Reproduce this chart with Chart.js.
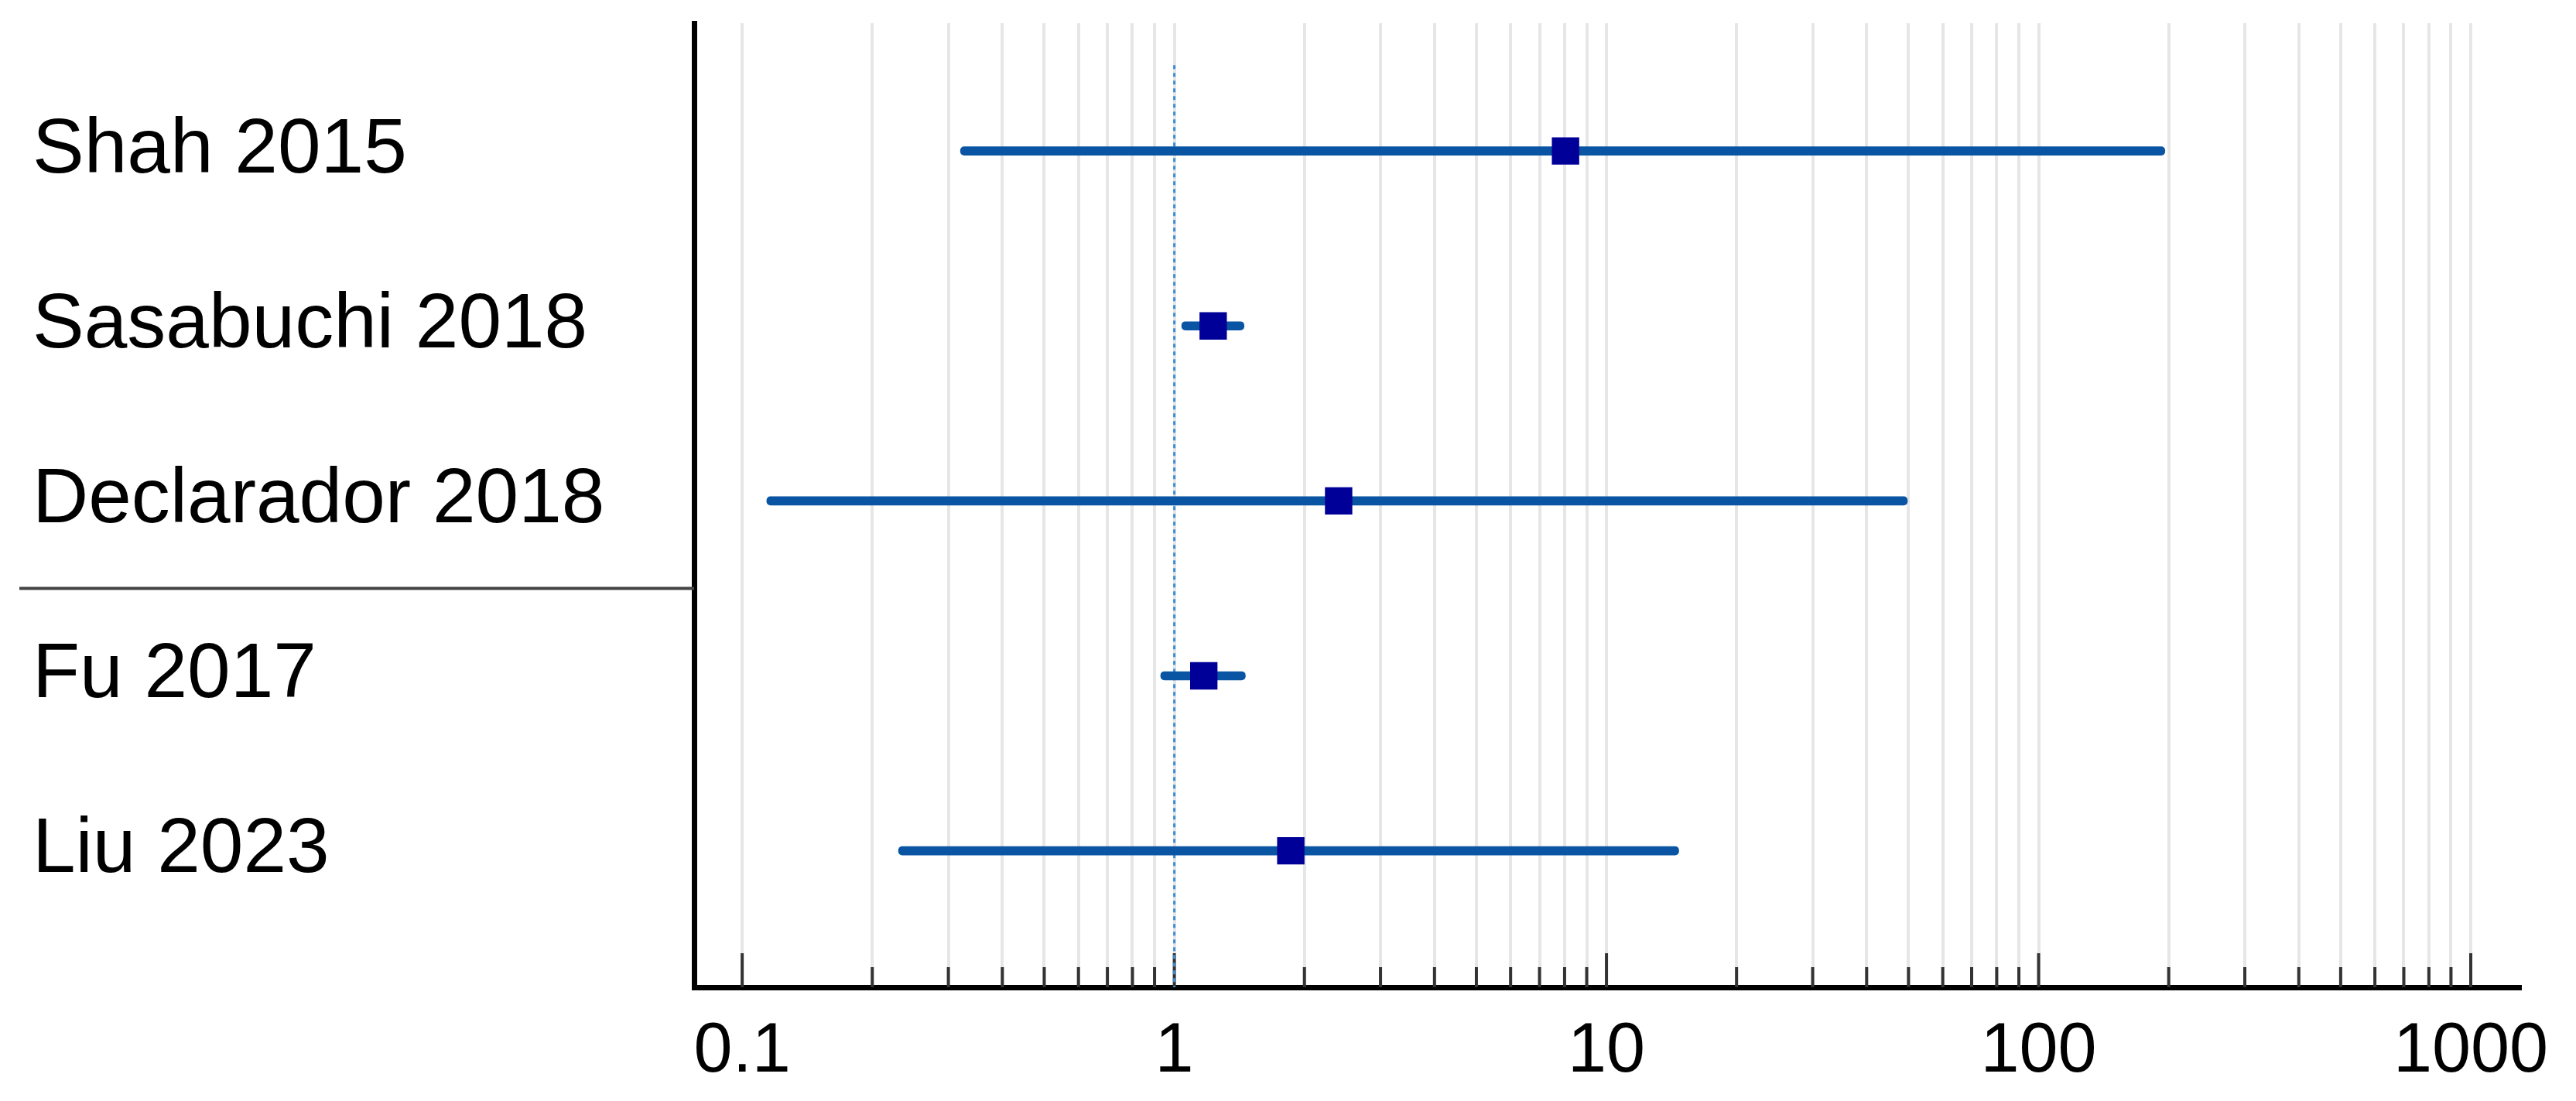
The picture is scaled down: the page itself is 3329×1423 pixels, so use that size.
<!DOCTYPE html>
<html>
<head>
<meta charset="utf-8">
<title>Forest plot</title>
<script src="https://cdn.jsdelivr.net/npm/chart.js@4.4.1/dist/chart.umd.min.js"></script>
<style>
  html, body { margin: 0; padding: 0; background: #fff; }
  #contenedor { width: 3329px; height: 1423px; }
</style>
</head>
<body>
<div id="contenedor"><canvas id="myChart" width="3329" height="1423"></canvas></div>
<script>
//datos
const estudios = ['Shah 2015', 'Sasabuchi 2018', 'Declarador 2018', 'Fu 2017', 'Liu 2023'];
const estimados = [8.04, 1.23, 2.40, 1.17, 1.86];
const limiteInferior = [0.32, 1.04, 0.114, 0.93, 0.23];
const limiteSuperior = [196, 1.45, 49.7, 1.46, 14.7];
//los 3 primeros estudios van separados de los 2 últimos
const grupoCorte = 3;
//valor de no efecto (línea punteada)
const lineaNula = 1;
//ticks del eje x
const ticksMayores = [0.1, 1, 10, 100, 1000];
const ticksMenores = [0.2, 0.3, 0.4, 0.5, 0.6, 0.7, 0.8, 0.9,
    2, 3, 4, 5, 6, 7, 8, 9,
    20, 30, 40, 50, 60, 70, 80, 90,
    200, 300, 400, 500, 600, 700, 800, 900];
const ticksEjeX = ticksMayores.concat(ticksMenores).sort((a, b) => a - b);
//rango de los ejes
const xMin = 0.0774, xMax = 1302;
const yMin = -0.73, yMax = 4.78, yInicioNula = -0.49;

const fuente = 'Liberation Sans, Arial, sans-serif';

//plugin: marcas del eje x hacia adentro y línea que separa los grupos
const marcasEjes = {
    id: 'marcasEjes',
    beforeDatasetsDraw(chart) {
        const {ctx, chartArea, scales: {x, y}} = chart;
        ctx.save();
        ctx.strokeStyle = '#333';
        ctx.lineWidth = 4;
        x.ticks.forEach(t => {
            const px = x.getPixelForValue(t.value);
            const largo = ticksMayores.includes(t.value) ? 44 : 26;
            ctx.beginPath();
            ctx.moveTo(px, chartArea.bottom);
            ctx.lineTo(px, chartArea.bottom - largo);
            ctx.stroke();
        });
        const yCorte = y.getPixelForValue(grupoCorte - 0.5);
        ctx.strokeStyle = '#444';
        ctx.lineWidth = 4;
        ctx.beginPath();
        ctx.moveTo(y.left - 17, yCorte);
        ctx.lineTo(chartArea.left, yCorte);
        ctx.stroke();
        ctx.restore();
    }
};

const ctx = document.getElementById('myChart').getContext('2d');
window.myForest = new Chart(ctx, {
    type: 'bar',
    data: {
        datasets: [{
                type: 'scatter',
                label: 'Estimado',
                data: estudios.map((e, i) => ({x: estimados[i], y: i})),
                pointStyle: 'rect',
                pointRadius: 25,
                backgroundColor: '#000099',
                borderColor: '#000099',
                borderWidth: 0,
                order: 0
            },
            {
                type: 'bar',
                label: 'IC 95%',
                indexAxis: 'y',
                data: estudios.map((e, i) => ({x: [limiteInferior[i], limiteSuperior[i]], y: i})),
                backgroundColor: '#0a55a3',
                barThickness: 11,
                borderRadius: 5,
                borderSkipped: false,
                order: 1
            },
            {
                type: 'line',
                label: 'Sin efecto',
                data: [{x: lineaNula, y: yInicioNula}, {x: lineaNula, y: yMax}],
                borderColor: '#3f8fd4',
                borderWidth: 3,
                borderDash: [5, 5],
                pointRadius: 0,
                order: 2
            }
        ]
    },
    options: {
        responsive: false,
        animation: false,
        layout: {padding: {left: 42, top: 30, right: 72, bottom: 0}},
        plugins: {
            legend: {display: false},
            tooltip: {enabled: false}
        },
        scales: {
            x: {
                type: 'logarithmic',
                offset: false,
                min: xMin,
                max: xMax,
                afterBuildTicks: (eje) => {
                    eje.ticks = ticksEjeX.map(v => ({value: v}));
                },
                afterFit: (eje) => {
                    eje.height = 147;
                    eje.paddingLeft = 0;
                    eje.paddingRight = 0;
                },
                grid: {color: '#e6e6e6', lineWidth: 4, drawTicks: false, offset: false},
                border: {color: '#000', width: 7},
                ticks: {
                    autoSkip: false,
                    maxRotation: 0,
                    padding: 30,
                    color: '#000',
                    font: {family: fuente, size: 90},
                    callback: (v) => ticksMayores.includes(v) ? String(v) : ''
                }
            },
            y: {
                type: 'linear',
                offset: false,
                reverse: true,
                min: yMin,
                max: yMax,
                afterBuildTicks: (eje) => {
                    eje.ticks = estudios.map((e, i) => ({value: i}));
                },
                afterFit: (eje) => {
                    eje.width = 855;
                    eje.paddingTop = 0;
                    eje.paddingBottom = 0;
                },
                grid: {display: false, offset: false},
                border: {color: '#000', width: 7},
                ticks: {
                    crossAlign: 'far',
                    padding: 0,
                    color: '#000',
                    font: {family: fuente, size: 100},
                    callback: (v) => estudios[v]
                }
            }
        }
    },
    plugins: [marcasEjes]
});
</script>
</body>
</html>
